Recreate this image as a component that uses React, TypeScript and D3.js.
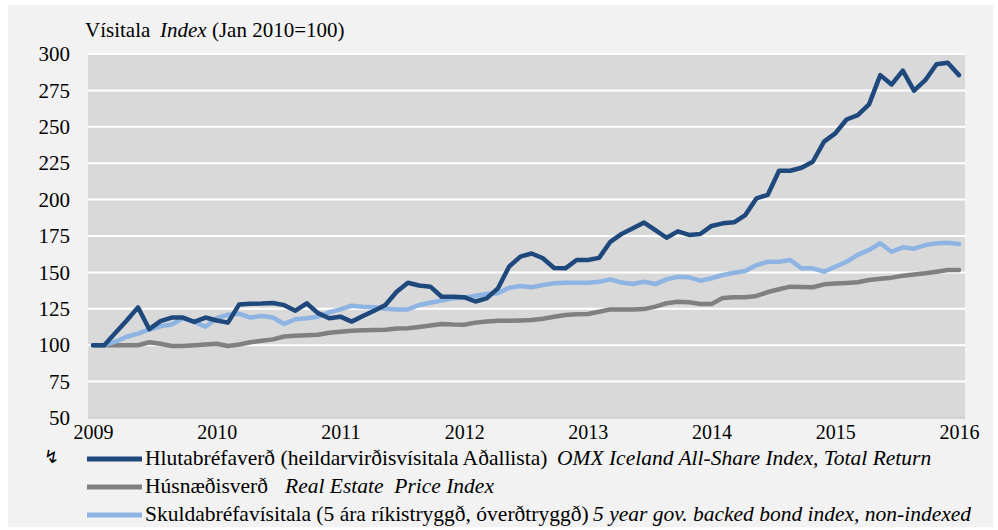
import { select, scaleLinear, line, axisLeft, axisBottom } from 'd3';
import { useEffect, useRef } from 'react';

// tick labels
const yearLabels = ['2009', '2010', '2011', '2012', '2013', '2014', '2015', '2016'];
const yearTickIndex = [0, 11, 22, 33, 44, 55, 66, 77];
const yTicks = [50, 75, 100, 125, 150, 175, 200, 225, 250, 275, 300];

// Hlutabréfaverð - OMX Iceland All-Share Index, Total Return
const shareIndex = [
  100, 100, 108.5, 117, 126, 111, 116.5, 119, 119, 116, 119, 117, 115.5, 128, 128.5, 128.6,
  129, 127.5, 123.7, 128.8, 122, 118.5, 119.6, 116.2, 120, 123.7, 127.6, 136.7, 142.9, 141,
  140.2, 133.3, 133.3, 133, 130, 132.2, 139, 154, 160.8, 163, 159.7, 153, 152.8, 158.5, 158.5,
  160, 171, 176.4, 180.3, 184.2, 179, 173.8, 178.2, 175.7, 176.4, 181.9, 183.7, 184.4, 189.4,
  200.9, 203.3, 219.8, 219.8, 221.9, 226, 239.8, 245.5, 255, 258, 265.4, 285.5, 279, 288.6,
  274.8, 282, 293, 294, 285.5,
];

// Húsnæðisverð - Real Estate Price Index
const housePrice = [
  100, 100, 100, 100, 100, 102, 101, 99.5, 99.5, 100, 100.5, 101, 99.5, 100.5, 102, 103, 104,
  106, 106.5, 106.8, 107.2, 108.5, 109.3, 110, 110.2, 110.4, 110.6, 111.5, 111.6, 112.5, 113.5,
  114.6, 114.2, 114, 115.5, 116.2, 116.8, 116.8, 117, 117.3, 118.2, 119.5, 120.7, 121.2, 121.4,
  123, 124.6, 124.6, 124.6, 124.8, 126.5, 128.8, 129.9, 129.5, 128.3, 128.3, 132.5, 132.9,
  132.9, 133.8, 136.5, 138.4, 140.2, 140, 139.8, 141.8, 142.3, 142.7, 143.2, 144.8, 145.6,
  146.4, 147.7, 148.5, 149.4, 150.5, 151.6, 151.6,
];

// Skuldabréfavísitala - 5 year gov. backed bond index, non-indexed
const bondIndex = [
  100, 100, 102.5, 105.8, 108, 110.8, 113, 114.2, 118.5, 116, 112.7, 118.5, 121, 121.6, 119,
  120, 119, 114.6, 117.8, 118.5, 119.6, 122.6, 124.6, 127.1, 126.4, 126, 125, 124.6, 124.6,
  127.6, 129.2, 130.6, 132.2, 132.6, 134, 135.2, 135.6, 139.5, 140.7, 139.8, 141.3, 142.5,
  142.9, 142.9, 142.9, 143.5, 145.2, 143, 142, 143.6, 142, 145.2, 147, 146.6, 144.3, 146, 148.2,
  149.8, 151, 155, 157.3, 157.3, 158.5, 152.8, 152.8, 150.5, 153.9, 157.3, 162, 165.4, 170,
  164.2, 167.2, 166.3, 168.8, 170, 170.4, 169.5,
];

const series = [
  { name: 'Hlutabréfaverð (heildarvirðisvísitala Aðallista)', en: 'OMX Iceland All-Share Index, Total Return', values: shareIndex, color: '#1f497d', enX: 557 },
  { name: 'Húsnæðisverð', en: 'Real Estate \u00a0Price Index', values: housePrice, color: '#808080', enX: 285 },
  { name: 'Skuldabréfavísitala (5 ára ríkistryggð, óverðtryggð)', en: '5 year gov. backed bond index, non-indexed', values: bondIndex, color: '#8db4e2', enX: 593 },
];

const FONT = "'Liberation Serif', 'Times New Roman', serif";

export default function App() {
  const svgRef = useRef<SVGSVGElement | null>(null);

  useEffect(() => {
    if (!svgRef.current) return;
    const svg = select(svgRef.current);
    svg.selectAll('*').remove();

    const plot = { left: 88, right: 965, top: 54, bottom: 418 };

    const x = scaleLinear().domain([0, shareIndex.length - 1]).range([93, 959]);
    const y = scaleLinear().domain([50, 300]).range([plot.bottom, plot.top]);

    svg.append('rect').attr('x', 8).attr('y', 5).attr('width', 985).attr('height', 522).attr('fill', '#f2f2f2');

    svg.append('rect')
      .attr('x', plot.left).attr('y', plot.top)
      .attr('width', plot.right - plot.left).attr('height', plot.bottom - plot.top)
      .attr('fill', '#d9d9d9');

    // gridlines
    svg.append('g').selectAll('line')
      .data(yTicks.filter((t) => t > 50))
      .enter().append('line')
      .attr('x1', plot.left).attr('x2', plot.right)
      .attr('y1', (d) => y(d)).attr('y2', (d) => y(d))
      .attr('stroke', '#ffffff').attr('stroke-width', 2);

    svg.append('line')
      .attr('x1', plot.left).attr('x2', plot.right)
      .attr('y1', plot.bottom).attr('y2', plot.bottom)
      .attr('stroke', '#bfbfbf').attr('stroke-width', 1);

    const yAxis = svg.append('g')
      .attr('transform', `translate(${plot.left},0)`)
      .call(axisLeft(y).tickValues(yTicks).tickSize(0).tickPadding(18));
    yAxis.select('.domain').remove();
    yAxis.selectAll('text').attr('font-family', FONT).attr('font-size', 21).attr('fill', '#000');

    const xAxis = svg.append('g')
      .attr('transform', `translate(0,${plot.bottom})`)
      .call(axisBottom(x).tickValues(yearTickIndex).tickSize(0).tickPadding(7)
        .tickFormat((_d, i) => yearLabels[i]));
    xAxis.select('.domain').remove();
    xAxis.selectAll('text').attr('font-family', FONT).attr('font-size', 20).attr('fill', '#000');

    const lineGen = line<number>()
      .x((_d, i) => x(i))
      .y((d) => y(d));

    [housePrice, bondIndex, shareIndex].forEach((vals) => {
      const s = series.find((q) => q.values === vals)!;
      svg.append('path')
        .datum(vals)
        .attr('d', lineGen)
        .attr('fill', 'none')
        .attr('stroke', s.color)
        .attr('stroke-width', 4.5)
        .attr('stroke-linejoin', 'round')
        .attr('stroke-linecap', 'round');
    });

    // title
    const title = svg.append('text').attr('x', 85).attr('y', 37)
      .attr('font-family', FONT).attr('font-size', 21).attr('fill', '#000');
    title.append('tspan').text('Vísitala');
    title.append('tspan').attr('x', 160).attr('font-style', 'italic').text('Index');
    title.append('tspan').text(' (Jan 2010=100)');

    // legend
    svg.append('text').attr('x', 44).attr('y', 463)
      .attr('font-family', "'DejaVu Sans', sans-serif").attr('font-size', 18).attr('fill', '#000')
      .text('↯');

    series.forEach((s, k) => {
      const ly = 459 + k * 28;
      svg.append('line')
        .attr('x1', 87).attr('x2', 142).attr('y1', ly).attr('y2', ly)
        .attr('stroke', s.color).attr('stroke-width', 5);
      const t = svg.append('text').attr('x', 145).attr('y', ly + 6)
        .attr('font-family', FONT).attr('font-size', 21.5).attr('fill', '#000');
      t.append('tspan').text(s.name);
      t.append('tspan').attr('x', s.enX).attr('font-style', 'italic').text(s.en);
    });
  }, []);

  return (
    <div style={{ position: 'absolute', left: 0, top: 0 }}>
      <svg ref={svgRef} width={998} height={530} style={{ display: 'block', background: '#ffffff' }} />
    </div>
  );
}
